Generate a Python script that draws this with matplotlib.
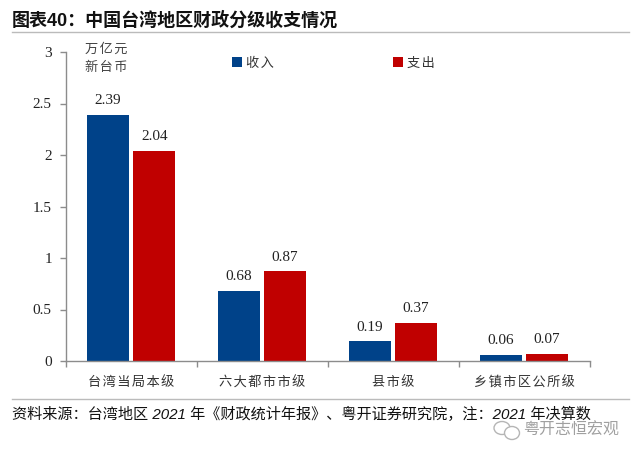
import numpy as np
import matplotlib
matplotlib.use("Agg")
import matplotlib.pyplot as plt
from matplotlib.patches import Ellipse

plt.rcParams['font.family'] = ['Liberation Serif', 'Noto Sans CJK SC', 'DejaVu Sans']

# Data
categories = ["台湾当局本级", "六大都市市级", "县市级", "乡镇市区公所级"]
income = [2.39, 0.68, 0.19, 0.06]
spending = [2.04, 0.87, 0.37, 0.07]
yticks = [0, 0.5, 1, 1.5, 2, 2.5, 3]
ytick_labels = ["0", "0.5", "1", "1.5", "2", "2.5", "3"]

W, H = 640, 459
BLUE = "#004289"
RED = "#C00000"
GREY = "#8C8C8C"
CJK = ['Noto Sans CJK SC', 'DejaVu Sans']
SANS = ['Liberation Sans', 'Noto Sans CJK SC']

fig = plt.figure(figsize=(W / 100, H / 100), dpi=100)

# axes placed in pixel terms: x 65.7-589.5, y 361 (zero) up to 52 (three)
ax = fig.add_axes([65.7 / W, 1 - 361 / H, (589.5 - 65.7) / W, (361 - 52) / H])
x = np.arange(len(categories))
bw = 0.324
off = 0.176
ax.bar(x - off, income, bw, color=BLUE)
ax.bar(x + off, spending, bw, color=RED)

for xi, a, b in zip(x, income, spending):
    ax.annotate("%.2f" % a, (xi - off, a), xytext=(0, 5.5), textcoords="offset points",
                ha="center", va="bottom", fontsize=11, color="#222222")
    ax.annotate("%.2f" % b, (xi + off, b), xytext=(0, 5.5), textcoords="offset points",
                ha="center", va="bottom", fontsize=11, color="#222222")

ax.set_xlim(-0.5, len(categories) - 0.5)
ax.set_ylim(0, 3)
ax.set_yticks(yticks)
ax.set_yticklabels(ytick_labels, fontsize=11, color="#222222")
ax.set_xticks(np.arange(len(categories) + 1) - 0.5)
ax.set_xticklabels([])
ax.tick_params(axis="y", direction="out", length=4, width=1, color=GREY, pad=6)
ax.tick_params(axis="x", direction="out", length=4, width=1, color=GREY)
for s in ["top", "right"]:
    ax.spines[s].set_visible(False)
for s in ["left", "bottom"]:
    ax.spines[s].set_color(GREY)
    ax.spines[s].set_linewidth(1)

# category labels with wide letter spacing like the original
for xi, c in zip(x, categories):
    ax.annotate("\u200a".join(c), (xi, 0), xytext=(0, -11), textcoords="offset points",
                ha="center", va="top", fontsize=9.5, color="#333333", family=CJK)

# overlay in pixel coordinates for the page furniture
page = fig.add_axes([0, 0, 1, 1], facecolor="none")
page.set_xlim(0, W)
page.set_ylim(H, 0)
page.axis("off")

# unit label
page.text(106, 49, "\u200a".join("万亿元"), ha="center", va="center", fontsize=9.5, color="#444444", family=CJK)
page.text(106, 68, "\u200a".join("新台币"), ha="center", va="center", fontsize=9.5, color="#444444", family=CJK)

# legend
page.scatter([237, 398], [62, 62], marker="s", s=42, c=[BLUE, RED], linewidths=0)
page.text(246, 63, "\u200a".join("收入"), va="center", fontsize=9.5, color="#333333", family=CJK)
page.text(407, 63, "\u200a".join("支出"), va="center", fontsize=9.5, color="#333333", family=CJK)

# title, rules, source
page.text(12, 21, "图表40：中国台湾地区财政分级收支情况", va="center", fontsize=13,
          fontweight="bold", color="#111111", family=SANS)
page.plot([12, 629], [32, 32], color="#BBBBBB", lw=1)
page.plot([12, 629], [399, 399], color="#BBBBBB", lw=1)
page.text(12, 414, "资料来源：台湾地区 2021 年《财政统计年报》、粤开证券研究院，注：2021 年决算数",
          va="center", fontsize=10.9, style="italic", color="#111111", family=SANS)

# watermark
page.add_patch(Ellipse((502, 428), 16, 13, fc="none", ec="#B5B5B5", lw=1))
page.add_patch(Ellipse((512, 433), 15, 13, fc="white", ec="#B5B5B5", lw=1))
page.text(523, 430, "粤开志恒宏观", va="center", fontsize=11.5, color="#A0A0A0", family=CJK)

fig.savefig("out.png", dpi=100)
